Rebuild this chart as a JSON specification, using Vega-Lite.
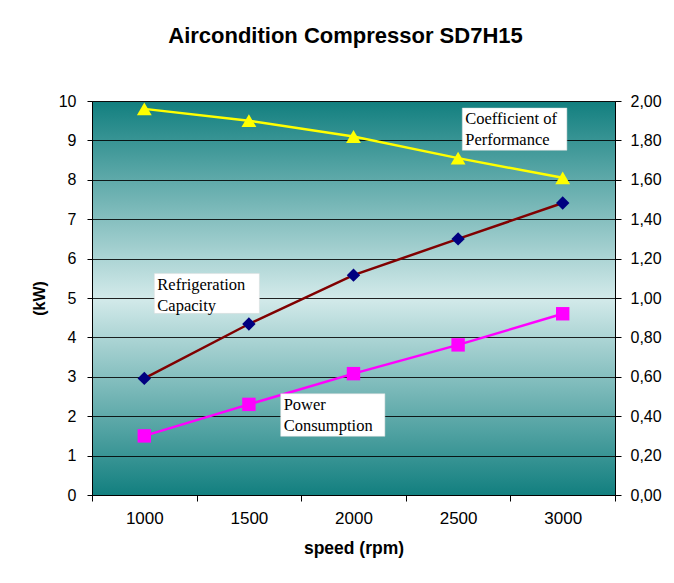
{
  "$schema": "https://vega.github.io/schema/vega-lite/v6.json",
  "width": 523,
  "height": 394,
  "autosize": "none",
  "padding": {"left": 92, "top": 101, "right": 59, "bottom": 88},
  "background": "white",
  "title": {
    "text": "Aircondition Compressor SD7H15",
    "font": "Liberation Sans",
    "fontSize": 22,
    "fontWeight": "bold",
    "color": "black",
    "frame": "group",
    "anchor": "middle",
    "baseline": "alphabetic",
    "offset": 28,
    "dx": -8
  },
  "config": {
    "view": {
      "fill": {
        "gradient": "linear",
        "x1": 0, "y1": 0, "x2": 0, "y2": 1,
        "stops": [
          {"offset": 0, "color": "#127f7f"},
          {"offset": 0.5, "color": "#d3eaea"},
          {"offset": 1, "color": "#127f7f"}
        ]
      },
      "stroke": "#555555",
      "strokeWidth": 1
    },
    "axis": {
      "labelFont": "Liberation Sans",
      "titleFont": "Liberation Sans",
      "labelColor": "black",
      "titleColor": "black",
      "domainColor": "black",
      "tickColor": "black",
      "labelFontSize": 16,
      "titleFontSize": 16,
      "titleFontWeight": "bold",
      "labelOverlap": false
    }
  },
  "datasets": {
    "kw": [
      {"speed": 1000, "series": "Refrigeration Capacity", "kw": 2.96},
      {"speed": 1500, "series": "Refrigeration Capacity", "kw": 4.34},
      {"speed": 2000, "series": "Refrigeration Capacity", "kw": 5.58},
      {"speed": 2500, "series": "Refrigeration Capacity", "kw": 6.5},
      {"speed": 3000, "series": "Refrigeration Capacity", "kw": 7.41},
      {"speed": 1000, "series": "Power Consumption", "kw": 1.5},
      {"speed": 1500, "series": "Power Consumption", "kw": 2.3},
      {"speed": 2000, "series": "Power Consumption", "kw": 3.08},
      {"speed": 2500, "series": "Power Consumption", "kw": 3.81},
      {"speed": 3000, "series": "Power Consumption", "kw": 4.6}
    ],
    "cop": [
      {"speed": 1000, "cop": 1.96},
      {"speed": 1500, "cop": 1.9},
      {"speed": 2000, "cop": 1.82},
      {"speed": 2500, "cop": 1.71},
      {"speed": 3000, "cop": 1.61}
    ],
    "notes": [
      {"speed": 2520, "speed2": 3020, "kw": 9.82, "kw2": 8.75, "label": "Coefficient of\nPerformance"},
      {"speed": 1048, "speed2": 1550, "kw": 5.62, "kw2": 4.61, "label": "Refrigeration\nCapacity"},
      {"speed": 1652, "speed2": 2150, "kw": 2.57, "kw2": 1.49, "label": "Power\nConsumption"}
    ]
  },
  "encoding": {
    "x": {
      "field": "speed",
      "type": "quantitative",
      "scale": {"domain": [750, 3250], "nice": false, "zero": false},
      "axis": {
        "values": [750, 1250, 1750, 2250, 2750, 3250],
        "labelExpr": "datum.value < 3000 ? format(datum.value + 250, 'd') : ''",
        "labelOffset": 52.3,
        "labelOverlap": false,
        "labelBound": false,
        "labelFlush": false,
        "labelFontSize": 17,
        "labelPadding": 9,
        "tickSize": 6,
        "grid": false,
        "title": "speed (rpm)",
        "titleFontSize": 17.5,
        "titlePadding": 13
      }
    }
  },
  "layer": [
    {
      "encoding": {
        "y": {
          "field": "kw",
          "type": "quantitative",
          "scale": {"domain": [0, 10], "nice": false},
          "axis": {
            "tickCount": 10,
            "tickMinStep": 1,
            "labelOverlap": false,
            "labelFlush": false,
            "labelBound": false,
            "grid": true,
            "gridColor": "#000000",
            "gridOpacity": 0.85,
            "tickSize": 5,
            "labelPadding": 11,
            "title": "(kW)",
            "titlePadding": 11
          }
        }
      },
      "layer": [
        {
          "data": {"name": "kw"},
          "mark": {"type": "line", "strokeWidth": 2.5},
          "encoding": {
            "stroke": {
              "field": "series",
              "type": "nominal",
              "scale": {"domain": ["Refrigeration Capacity", "Power Consumption"], "range": ["#800000", "#ff00ff"]},
              "legend": null
            }
          }
        },
        {
          "data": {"name": "kw"},
          "mark": {"type": "point", "filled": true, "opacity": 1, "size": 180},
          "encoding": {
            "shape": {
              "field": "series",
              "type": "nominal",
              "scale": {"domain": ["Refrigeration Capacity", "Power Consumption"], "range": ["diamond", "square"]},
              "legend": null
            },
            "fill": {
              "field": "series",
              "type": "nominal",
              "scale": {"domain": ["Refrigeration Capacity", "Power Consumption"], "range": ["#000080", "#ff00ff"]},
              "legend": null
            }
          }
        },
        {
          "data": {"name": "notes"},
          "mark": {"type": "rect", "fill": "white", "stroke": "#dddddd", "strokeWidth": 0.5},
          "encoding": {
            "x2": {"field": "speed2"},
            "y2": {"field": "kw2"}
          }
        },
        {
          "data": {"name": "notes"},
          "mark": {
            "type": "text",
            "font": "Liberation Serif",
            "fontSize": 16.5,
            "align": "left",
            "baseline": "top",
            "dx": 3,
            "dy": 3,
            "lineBreak": "\n",
            "lineHeight": 21,
            "color": "black"
          },
          "encoding": {
            "text": {"field": "label"}
          }
        }
      ]
    },
    {
      "data": {"name": "cop"},
      "encoding": {
        "y": {
          "field": "cop",
          "type": "quantitative",
          "scale": {"domain": [0, 2], "nice": false},
          "axis": {
            "orient": "right",
            "tickCount": 10,
            "labelOverlap": false,
            "labelFlush": false,
            "labelBound": false,
            "labelExpr": "replace(format(datum.value, '.2f'), '.', ',')",
            "grid": false,
            "tickSize": 6,
            "labelPadding": 9,
            "title": null
          }
        }
      },
      "layer": [
        {
          "mark": {"type": "line", "strokeWidth": 2.5, "color": "#ffff00"}
        },
        {
          "mark": {"type": "point", "shape": "triangle-up", "filled": true, "opacity": 1, "size": 220, "color": "#ffff00"}
        }
      ]
    }
  ],
  "resolve": {"scale": {"y": "independent"}}
}
